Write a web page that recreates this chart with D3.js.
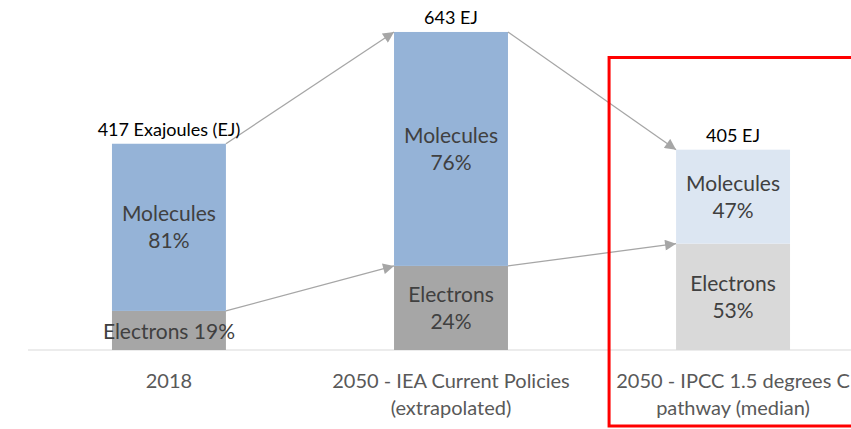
<!DOCTYPE html>
<html>
<head>
<meta charset="utf-8">
<script src="https://cdn.jsdelivr.net/npm/d3@7"></script>
<style>
  html, body { margin: 0; padding: 0; background: #fff; }
  svg { display: block; font-family: "Lato", "Open Sans", sans-serif; }
</style>
</head>
<body>
<svg id="chart" width="851" height="429"></svg>
<script>
// ---- data ----
const categories = ["2018", "2050 - IEA Current Policies", "2050 - IPCC 1.5 degrees C"];
const categoryLines = [["2018"], ["2050 - IEA Current Policies", "(extrapolated)"], ["2050 - IPCC 1.5 degrees C", "pathway (median)"]];
const electronsEJ = [79, 170, 215];
const moleculesEJ = [338, 473, 190];
const totalLabels = ["417 Exajoules (EJ)", "643 EJ", "405 EJ"];
const moleculesShare = ["81%", "76%", "47%"];
const electronsShare = ["19%", "24%", "53%"];
const highlighted = [false, false, true];

// ---- layout ----
const svg = d3.select("#chart");
const baseY = 350;
const pxPerEJ = 0.4946;
const yMax = 700;

const x = d3.scaleBand().domain(categories).range([0, 902]).paddingInner(0.596).paddingOuter(0.397);
const y = d3.scaleLinear().domain([0, yMax]).range([baseY, baseY - yMax * pxPerEJ]);

const colors = {
  mol: "#95b3d7", elec: "#a6a6a6",
  molLight: "#dce6f2", elecLight: "#d9d9d9"
};

const data = categories.map((c, i) => ({
  cat: c, i, elec: electronsEJ[i], mol: moleculesEJ[i], total: electronsEJ[i] + moleculesEJ[i]
}));

// axis line
svg.append("line").attr("x1", 28).attr("x2", 851).attr("y1", y(0)).attr("y2", y(0))
  .attr("stroke", "#d9d9d9").attr("stroke-width", 1);

// bars
const g = svg.append("g");
g.selectAll("rect.elec").data(data).join("rect").attr("class", "elec")
  .attr("x", d => x(d.cat)).attr("width", x.bandwidth())
  .attr("y", d => y(d.elec)).attr("height", d => y(0) - y(d.elec))
  .attr("fill", d => highlighted[d.i] ? colors.elecLight : colors.elec);
g.selectAll("rect.mol").data(data).join("rect").attr("class", "mol")
  .attr("x", d => x(d.cat)).attr("width", x.bandwidth())
  .attr("y", d => y(d.total)).attr("height", d => y(d.elec) - y(d.total))
  .attr("fill", d => highlighted[d.i] ? colors.molLight : colors.mol);

// arrows
const defs = svg.append("defs");
defs.append("marker").attr("id", "arrow").attr("viewBox", "0 0 10 10")
  .attr("refX", 10).attr("refY", 5).attr("markerWidth", 12).attr("markerHeight", 11)
  .attr("markerUnits", "userSpaceOnUse").attr("orient", "auto")
  .append("path").attr("d", "M0,0 L10,5 L0,10 z").attr("fill", "#a6a6a6");

const arrows = [];
for (let i = 0; i < data.length - 1; i++) {
  const a = data[i], b = data[i + 1];
  arrows.push({ x1: x(a.cat) + x.bandwidth(), y1: y(a.total), x2: x(b.cat), y2: y(b.total) });
  arrows.push({ x1: x(a.cat) + x.bandwidth(), y1: y(a.elec), x2: x(b.cat), y2: y(b.elec) });
}
svg.selectAll("line.arrow").data(arrows).join("line").attr("class", "arrow")
  .attr("x1", d => d.x1).attr("y1", d => d.y1).attr("x2", d => d.x2).attr("y2", d => d.y2)
  .attr("stroke", "#a6a6a6").attr("stroke-width", 1.3).attr("marker-end", "url(#arrow)");

// total labels
svg.selectAll("text.total").data(data).join("text").attr("class", "total")
  .attr("x", d => x(d.cat) + x.bandwidth() / 2).attr("y", d => y(d.total) - 8)
  .attr("text-anchor", "middle").attr("font-size", 18).attr("fill", "#000")
  .text(d => totalLabels[d.i]);

// in-bar labels
data.forEach(d => {
  const cx = x(d.cat) + x.bandwidth() / 2;
  const molMid = (y(d.total) + y(d.elec)) / 2;
  const elecMid = (y(d.elec) + y(0)) / 2;
  const t1 = svg.append("text").attr("text-anchor", "middle").attr("font-size", 21).attr("fill", "#404040");
  t1.append("tspan").attr("x", cx).attr("y", molMid - 13.5).attr("dy", "0.35em").text("Molecules");
  t1.append("tspan").attr("x", cx).attr("y", molMid + 13.5).attr("dy", "0.35em").text(moleculesShare[d.i]);
  const t2 = svg.append("text").attr("text-anchor", "middle").attr("font-size", 21).attr("fill", "#404040");
  if (y(0) - y(d.elec) < 50) {
    t2.append("tspan").attr("x", cx).attr("y", elecMid + 1).attr("dy", "0.35em").text("Electrons " + electronsShare[d.i]);
  } else {
    t2.append("tspan").attr("x", cx).attr("y", elecMid - 13.5).attr("dy", "0.35em").text("Electrons");
    t2.append("tspan").attr("x", cx).attr("y", elecMid + 13.5).attr("dy", "0.35em").text(electronsShare[d.i]);
  }
});

// category labels
data.forEach(d => {
  const cx = x(d.cat) + x.bandwidth() / 2;
  const t = svg.append("text").attr("text-anchor", "middle").attr("font-size", 20).attr("fill", "#595959");
  categoryLines[d.i].forEach((line, k) => {
    t.append("tspan").attr("x", cx).attr("y", 381 + k * 27).attr("dy", "0.35em").text(line);
  });
});

// highlight box
const hi = data.find(d => highlighted[d.i]);
svg.append("rect").attr("x", x(hi.cat) - 67).attr("y", 57.5).attr("width", 300).attr("height", 368.5)
  .attr("fill", "none").attr("stroke", "#ff0000").attr("stroke-width", 3);
</script>
</body>
</html>
